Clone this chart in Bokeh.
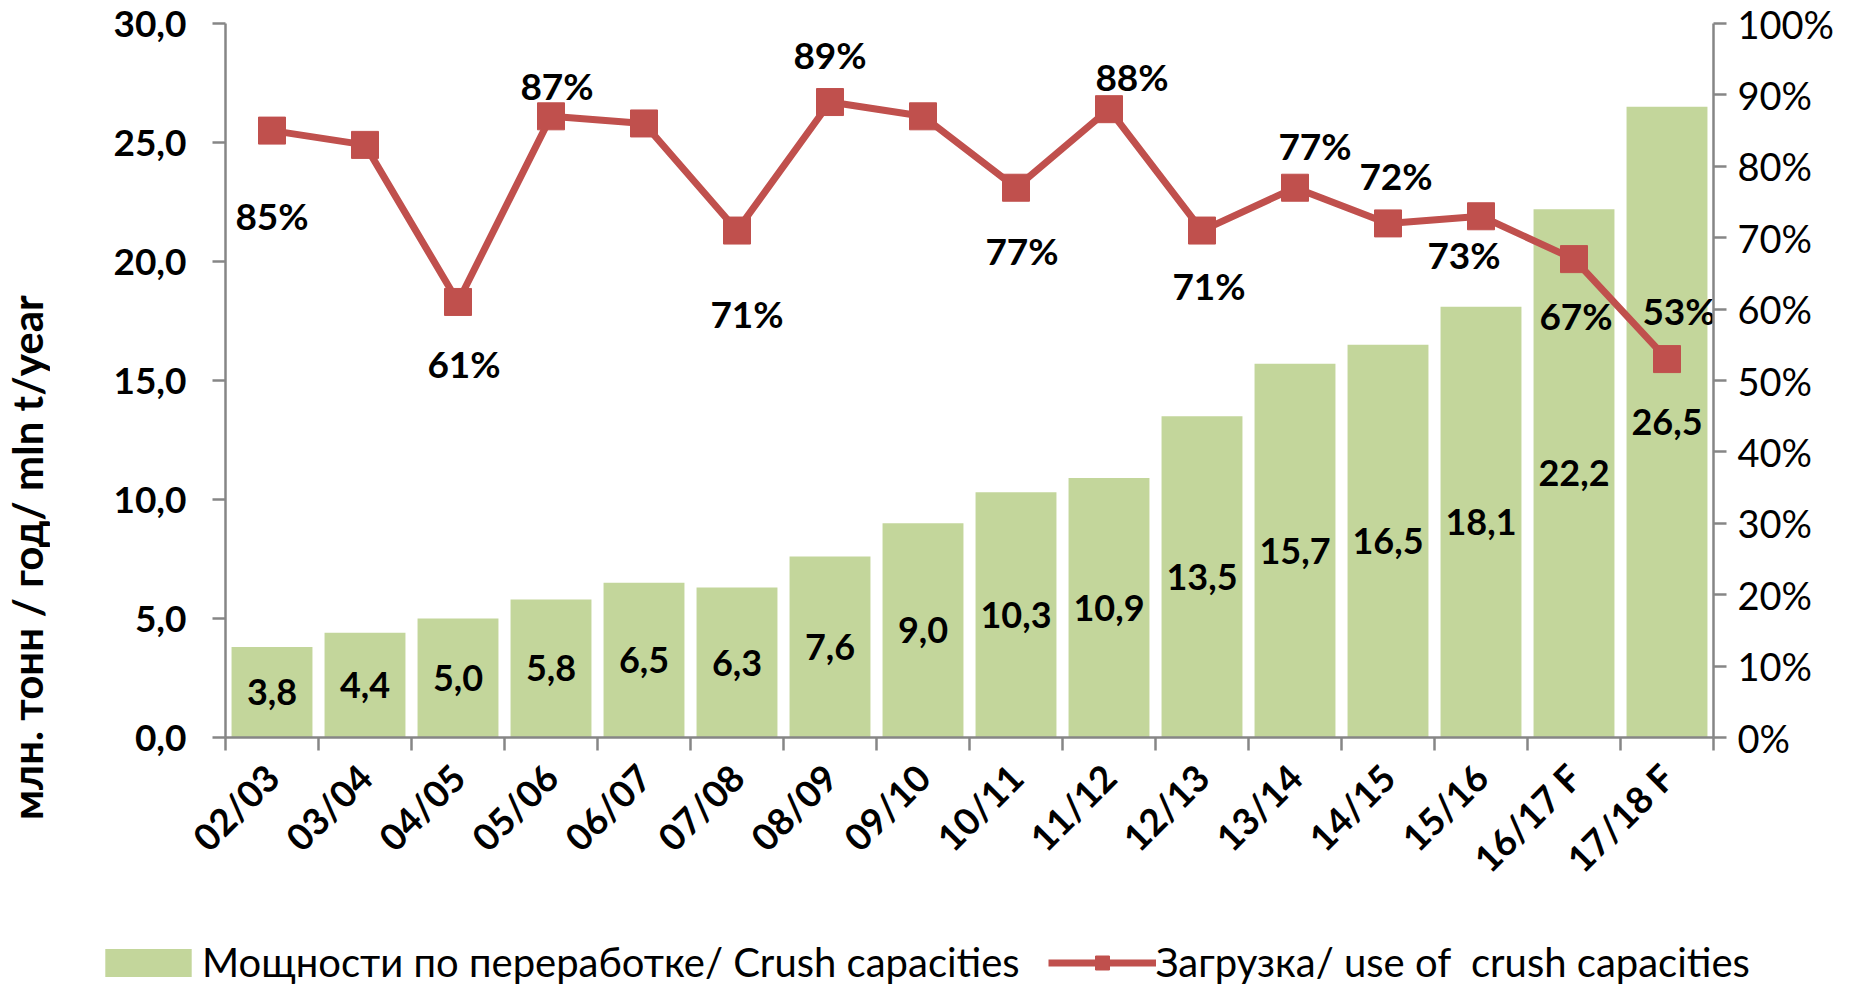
from bokeh.plotting import figure
from bokeh.models import (Range1d, LinearAxis, FixedTicker, ColumnDataSource,
                          Legend, LegendItem)
from bokeh.layouts import column, row
from bokeh.core.properties import value
from bokeh.embed import file_html
from bokeh.resources import INLINE
import math

# ---------------- data ----------------
categories = ["02/03", "03/04", "04/05", "05/06", "06/07", "07/08", "08/09", "09/10",
              "10/11", "11/12", "12/13", "13/14", "14/15", "15/16", "16/17 F", "17/18 F"]
capacity = [3.8, 4.4, 5.0, 5.8, 6.5, 6.3, 7.6, 9.0, 10.3, 10.9, 13.5, 15.7, 16.5, 18.1, 22.2, 26.5]
capacity_labels = ["3,8", "4,4", "5,0", "5,8", "6,5", "6,3", "7,6", "9,0", "10,3", "10,9",
                   "13,5", "15,7", "16,5", "18,1", "22,2", "26,5"]
usage_pct = [85, 83, 61, 87, 86, 71, 89, 87, 77, 88, 71, 77, 72, 73, 67, 53]
usage_labels = ["85%", "", "61%", "87%", "", "71%", "89%", "", "77%", "88%",
                "71%", "77%", "72%", "73%", "67%", "53%"]
left_ticks = [0, 5, 10, 15, 20, 25, 30]
left_tick_labels = ["0,0", "5,0", "10,0", "15,0", "20,0", "25,0", "30,0"]
right_ticks = [0, 10, 20, 30, 40, 50, 60, 70, 80, 90, 100]
right_tick_labels = ["0%", "10%", "20%", "30%", "40%", "50%", "60%", "70%", "80%", "90%", "100%"]
y_title = "млн. тонн / год/   mln t/year"
bar_name = "Мощности по переработке/ Crush capacities"
line_name = "Загрузка/ use of  crush capacities"

# label placement (screen pixels, y downward) for the percentage labels
label_dx = [0, 0, 6, 6, 0, 10, 0, 0, 6, 23, 7, 20, 8, -17, 2, 12]
label_dy = [85, 0, 62, -31, 0, 83, -48, 0, 63, -33, 55, -42, -48, 38, 56, -49]

# ---------------- styling ----------------
FONT = "Lato"
GREEN = "#C3D69B"
RED = "#C0504D"
GREY = "#868686"

n = len(categories)
xs = [i + 0.5 for i in range(n)]

W = 1846
W_TITLE = 50
H_MAIN, H_LEG = 926, 60
TOP, FRAME_H = 23, 714


def bare(fig):
    fig.frame_align = False
    fig.outline_line_color = None
    fig.xgrid.visible = False
    fig.ygrid.visible = False
    fig.background_fill_color = "white"
    fig.border_fill_color = "white"


# ---- strip holding the vertical y-axis title ----
tf = figure(width=W_TITLE, height=H_MAIN, output_backend="svg", toolbar_location=None,
            x_range=Range1d(0, W_TITLE), y_range=Range1d(0, H_MAIN),
            min_border_left=0, min_border_right=0, min_border_top=0, min_border_bottom=0,
            x_axis_type=None, y_axis_type=None)
bare(tf)
tf.text(x=[26], y=[H_MAIN - 547], text=[y_title], angle=math.pi / 2,
        text_font=value(FONT), text_font_style="bold", text_font_size="42px",
        text_align="center", text_baseline="middle", text_color="black")

# ---- main chart ----
p = figure(width=W - W_TITLE, height=H_MAIN, output_backend="svg", toolbar_location=None,
           x_range=Range1d(0, n), y_range=Range1d(0, 30),
           min_border_left=175, min_border_right=133, min_border_top=TOP,
           min_border_bottom=H_MAIN - TOP - FRAME_H, x_axis_type=None, y_axis_type=None)
bare(p)
p.extra_y_ranges = {"pct": Range1d(0, 100)}

yl = LinearAxis(ticker=FixedTicker(ticks=left_ticks, minor_ticks=[]),
                major_label_overrides={t: l for t, l in zip(left_ticks, left_tick_labels)})
yr = LinearAxis(y_range_name="pct", ticker=FixedTicker(ticks=right_ticks, minor_ticks=[]),
                major_label_overrides={t: l for t, l in zip(right_ticks, right_tick_labels)})
xa = LinearAxis(ticker=FixedTicker(ticks=xs, minor_ticks=list(range(n + 1))),
                major_label_overrides={x: c for x, c in zip(xs, categories)})

for ax in (yl, yr, xa):
    ax.axis_line_color = GREY
    ax.axis_line_width = 2.5
    ax.major_tick_line_color = GREY
    ax.major_tick_line_width = 2.5
    ax.major_tick_out = 13
    ax.major_tick_in = 0
    ax.minor_tick_line_color = None
    ax.major_label_text_font = FONT
    ax.major_label_text_color = "black"
    ax.major_label_text_font_size = "37px"

yl.major_label_text_font_style = "bold"
yl.major_label_standoff = 26

yr.major_label_standoff = 11
yr.major_label_text_font_size = "38px"

xa.major_tick_line_color = None
xa.minor_tick_line_color = GREY
xa.minor_tick_line_width = 2.5
xa.minor_tick_out = 13
xa.minor_tick_in = 0
xa.major_label_orientation = math.pi / 4
xa.major_label_text_font_style = "bold"
xa.major_label_standoff = 20

p.add_layout(yl, "left")
p.add_layout(yr, "right")
p.add_layout(xa, "below")

src = ColumnDataSource(dict(x=xs, cap=capacity, cap_lab=capacity_labels,
                            cap_mid=[c / 2 for c in capacity],
                            pct=usage_pct, pct_lab=usage_labels,
                            dx=label_dx, dy=label_dy))

bars = p.vbar(x="x", top="cap", width=0.87, source=src, fill_color=GREEN, line_color=None)
line = p.line(x="x", y="pct", source=src, y_range_name="pct", line_color=RED, line_width=7)
marks = p.scatter(x="x", y="pct", source=src, y_range_name="pct", marker="square", size=27,
                  fill_color=RED, line_color=RED)

p.text(x="x", y="cap_mid", text="cap_lab", source=src, text_font=value(FONT),
       text_font_style="bold", text_font_size="36px", text_align="center",
       text_baseline="middle", text_color="black")
p.text(x="x", y="pct", text="pct_lab", source=src, y_range_name="pct",
       x_offset="dx", y_offset="dy", text_font=value(FONT),
       text_font_style="bold", text_font_size="37px", text_align="center",
       text_baseline="middle", text_color="black")

# ---- legend strip below the chart ----
lg = figure(width=W, height=H_LEG, output_backend="svg", toolbar_location=None,
            x_range=Range1d(1000, 1001), y_range=Range1d(1000, 1001),
            min_border_left=0, min_border_right=0, min_border_top=0, min_border_bottom=0,
            x_axis_type=None, y_axis_type=None)
bare(lg)
lb = lg.vbar(x="x", top="cap", width=0.87, source=src, fill_color=GREEN, line_color=None)
ll = lg.line(x="x", y="pct", source=src, line_color=RED, line_width=7)
lm = lg.scatter(x="x", y="pct", source=src, marker="square", size=27,
                fill_color=RED, line_color=RED)
legend = Legend(items=[LegendItem(label=bar_name, renderers=[lb]),
                       LegendItem(label=line_name, renderers=[ll, lm])],
                orientation="horizontal", location=(94, 0),
                label_text_font=FONT, label_text_font_size="40px",
                label_text_color="black", glyph_width=108, glyph_height=35,
                label_standoff=0, spacing=28, border_line_color=None,
                background_fill_alpha=0, margin=0, padding=0)
lg.add_layout(legend, "center")

layout = column(row(tf, p, spacing=0), lg, spacing=0)
open("out.html", "w").write(file_html(layout, INLINE))
